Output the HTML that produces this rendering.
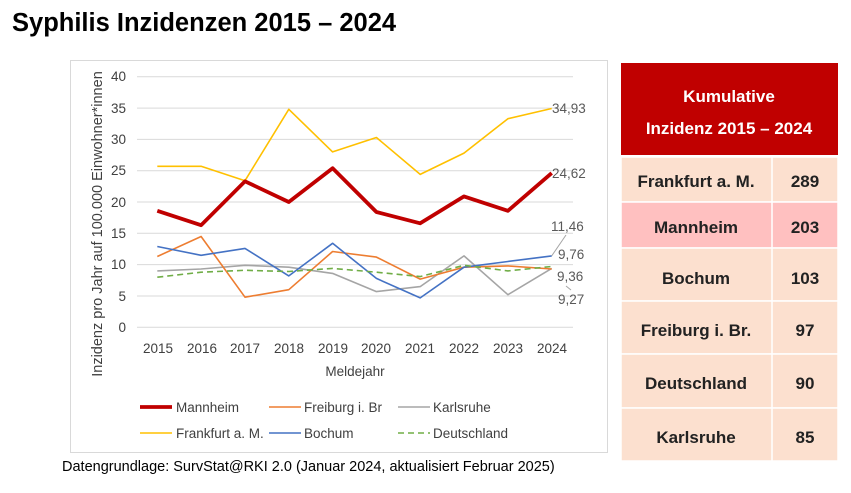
<!DOCTYPE html>
<html><head><meta charset="utf-8"><style>
html,body{margin:0;padding:0;background:#fff;}
body{width:851px;height:488px;overflow:hidden;font-family:"Liberation Sans",sans-serif;}
</style></head><body>
<svg width="851" height="488" viewBox="0 0 851 488" xmlns="http://www.w3.org/2000/svg" font-family="Liberation Sans, sans-serif">
<text x="12" y="31" font-size="25.5" font-weight="bold" fill="#000">Syphilis Inzidenzen 2015 – 2024</text>
<rect x="70.5" y="60.5" width="537" height="392" fill="#fff" stroke="#d9d9d9"/>
<g stroke="#d9d9d9" stroke-width="1">
<line x1="137" x2="573" y1="327.3" y2="327.3"/><line x1="137" x2="573" y1="296" y2="296"/>
<line x1="137" x2="573" y1="264.6" y2="264.6"/><line x1="137" x2="573" y1="233.3" y2="233.3"/>
<line x1="137" x2="573" y1="202" y2="202"/><line x1="137" x2="573" y1="170.7" y2="170.7"/>
<line x1="137" x2="573" y1="139.4" y2="139.4"/><line x1="137" x2="573" y1="108.1" y2="108.1"/>
<line x1="137" x2="573" y1="76.7" y2="76.7"/>
</g>
<g font-size="13.5" fill="#404040" text-anchor="end">
<text x="126" y="332">0</text><text x="126" y="301">5</text><text x="126" y="269">10</text>
<text x="126" y="238">15</text><text x="126" y="207">20</text><text x="126" y="175">25</text>
<text x="126" y="144">30</text><text x="126" y="113">35</text><text x="126" y="81">40</text>
</g>
<g font-size="13.5" fill="#404040" text-anchor="middle">
<text x="158" y="353">2015</text><text x="202" y="353">2016</text><text x="245" y="353">2017</text>
<text x="289" y="353">2018</text><text x="333" y="353">2019</text><text x="376" y="353">2020</text>
<text x="420" y="353">2021</text><text x="464" y="353">2022</text><text x="508" y="353">2023</text>
<text x="552" y="353">2024</text>
<text x="355" y="376">Meldejahr</text>
<text transform="translate(102,224) rotate(-90)" font-size="14.5">Inzidenz pro Jahr auf 100.000 Einwohner*innen</text>
</g>
<g fill="none" stroke-linejoin="round">
<polyline stroke="#ffc000" stroke-width="1.6" points="157.3,166.3 201.1,166.3 245,180.7 288.8,109.3 332.6,151.9 376.4,137.5 420.2,174.4 464,153.1 507.9,118.7 551.7,108.5"/>
<polyline stroke="#a5a5a5" stroke-width="1.6" points="157.3,270.9 201.1,269 245,265.3 288.8,267.2 332.6,273.4 376.4,291.6 420.2,286.6 464,255.9 507.9,294.7 551.7,268.4"/>
<polyline stroke="#ed7d31" stroke-width="1.6" points="157.3,256.5 201.1,236.5 245,297.2 288.8,289.7 332.6,251.5 376.4,257.1 420.2,279.1 464,267.2 507.9,265.9 551.7,269"/>
<polyline stroke="#4472c4" stroke-width="1.6" points="157.3,246.5 201.1,255.3 245,248.4 288.8,275.9 332.6,243.3 376.4,278.4 420.2,297.9 464,267.2 507.9,261.5 551.7,255.9"/>
<polyline stroke="#70ad47" stroke-width="1.6" stroke-dasharray="6,4" points="157.3,277.2 201.1,272.2 245,270.3 288.8,271.5 332.6,268.4 376.4,272.2 420.2,276.6 464,265.3 507.9,270.9 551.7,266.5"/>
<polyline stroke="#c00000" stroke-width="3.8" points="157.3,210.8 201.1,225.2 245,181.3 288.8,202 332.6,168.2 376.4,212 420.2,223.3 464,196.4 507.9,210.8 551.7,173.1"/>
<polyline stroke="#a5a5a5" stroke-width="1" points="551.7,255.9 566,235"/>
<polyline stroke="#a5a5a5" stroke-width="1" points="566,286 571,290"/>
</g>
<g font-size="13.5" fill="#595959">
<text x="552" y="113">34,93</text><text x="552" y="178">24,62</text>
<text x="551" y="231">11,46</text><text x="558" y="259">9,76</text>
<text x="557" y="281">9,36</text><text x="558" y="304">9,27</text>
</g>
<g font-size="13.5" fill="#404040">
<line x1="140" x2="172" y1="407" y2="407" stroke="#c00000" stroke-width="3.8"/><text x="176" y="412">Mannheim</text>
<line x1="269" x2="301" y1="407" y2="407" stroke="#ed7d31" stroke-width="1.6"/><text x="304" y="412">Freiburg i. Br</text>
<line x1="398" x2="430" y1="407" y2="407" stroke="#a5a5a5" stroke-width="1.6"/><text x="433" y="412">Karlsruhe</text>
<line x1="140" x2="172" y1="433" y2="433" stroke="#ffc000" stroke-width="1.6"/><text x="176" y="438">Frankfurt a. M.</text>
<line x1="269" x2="301" y1="433" y2="433" stroke="#4472c4" stroke-width="1.6"/><text x="304" y="438">Bochum</text>
<line x1="398" x2="430" y1="433" y2="433" stroke="#70ad47" stroke-width="1.6" stroke-dasharray="6,4"/><text x="433" y="438">Deutschland</text>
</g>
<text x="62" y="471" font-size="14.5" fill="#000">Datengrundlage: SurvStat@RKI 2.0 (Januar 2024, aktualisiert Februar 2025)</text>
<rect x="621" y="63" width="217" height="92" fill="#c00000"/>
<g font-size="17" font-weight="bold" fill="#fff" text-anchor="middle">
<text x="729" y="102">Kumulative</text><text x="729" y="134">Inzidenz 2015 – 2024</text>
</g>
<g stroke="#fff" stroke-width="1.5">
<rect x="621" y="157" width="217" height="45" fill="#fce0cf"/>
<rect x="621" y="202" width="217" height="46" fill="#ffc0c0"/>
<rect x="621" y="248" width="217" height="53" fill="#fce0cf"/>
<rect x="621" y="301" width="217" height="53" fill="#fce0cf"/>
<rect x="621" y="354" width="217" height="54" fill="#fce0cf"/>
<rect x="621" y="408" width="217" height="53" fill="#fce0cf"/>
<line x1="772" x2="772" y1="157" y2="461"/>
</g>
<g font-size="17" font-weight="bold" fill="#222" text-anchor="middle">
<text x="696" y="187">Frankfurt a. M.</text><text x="805" y="187">289</text>
<text x="696" y="233">Mannheim</text><text x="805" y="233">203</text>
<text x="696" y="284">Bochum</text><text x="805" y="284">103</text>
<text x="696" y="336">Freiburg i. Br.</text><text x="805" y="336">97</text>
<text x="696" y="389">Deutschland</text><text x="805" y="389">90</text>
<text x="696" y="443">Karlsruhe</text><text x="805" y="443">85</text>
</g>
</svg>
</body></html>
